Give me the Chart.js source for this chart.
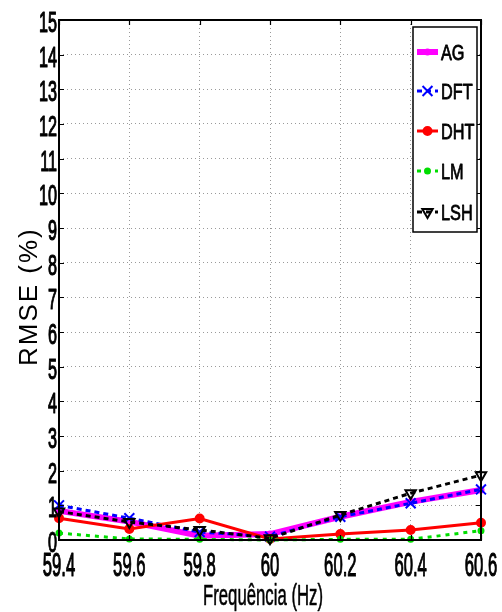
<!DOCTYPE html>
<html>
<head>
<meta charset="utf-8">
<script src="https://cdn.jsdelivr.net/npm/chart.js@4/dist/chart.umd.min.js"></script>
<style>
  html, body { margin: 0; padding: 0; background: #fff; }
  #wrap { width: 502px; height: 612px; }
</style>
</head>
<body>
<div id="wrap"><canvas id="c" width="502" height="612"></canvas></div>
<script>
// Frequency points (Hz) and RMSE (%) per estimation method
const categories = ['59.4', '59.6', '59.8', '60', '60.2', '60.4', '60.6'];
const yTicks = [0, 1, 2, 3, 4, 5, 6, 7, 8, 9, 10, 11, 12, 13, 14, 15];
const seriesNames = ['AG', 'DFT', 'DHT', 'LM', 'LSH'];
const ag  = [0.84, 0.53, 0.12, 0.17, 0.67, 1.10, 1.44];
const dft = [1.00, 0.63, 0.23, 0.10, 0.67, 1.06, 1.46];
const dht = [0.63, 0.32, 0.62, 0.03, 0.17, 0.29, 0.50];
const lm  = [0.20, 0.03, 0.02, 0.00, 0.02, 0.02, 0.27];
const lsh = [0.82, 0.52, 0.29, 0.05, 0.72, 1.35, 1.87];

const FONT = '"Liberation Sans", Arial, sans-serif';

// Draws a text string squeezed horizontally, optionally thickened by a stroke
function squeezed(ctx, text, x, y, sx, align, weight) {
  ctx.save();
  ctx.translate(x, y);
  ctx.scale(sx, 1);
  ctx.textAlign = align;
  ctx.fillText(text, 0, 0);
  if (weight) {
    ctx.strokeStyle = ctx.fillStyle;
    ctx.lineWidth = weight;
    ctx.lineJoin = 'round';
    ctx.strokeText(text, 0, 0);
  }
  ctx.restore();
}

const frame = {
  id: 'frame',
  afterDatasetsDraw(chart) {
    const ctx = chart.ctx;
    const a = chart.chartArea;
    const xs = chart.scales.x, ys = chart.scales.y;

    // inward tick marks on all four sides
    ctx.save();
    ctx.strokeStyle = '#000';
    ctx.lineWidth = 1.2;
    ctx.beginPath();
    yTicks.forEach(v => {
      const p = Math.round(ys.getPixelForValue(v)) + 0.5;
      ctx.moveTo(a.left, p); ctx.lineTo(a.left + 5, p);
      ctx.moveTo(a.right, p); ctx.lineTo(a.right - 5, p);
    });
    categories.forEach((c, i) => {
      const p = Math.round(xs.getPixelForTick(i)) + 0.5;
      ctx.moveTo(p, a.bottom); ctx.lineTo(p, a.bottom - 5);
      ctx.moveTo(p, a.top); ctx.lineTo(p, a.top + 5);
    });
    ctx.stroke();

    // axes box
    ctx.lineWidth = 2;
    ctx.strokeRect(a.left, a.top, a.right - a.left, a.bottom - a.top);
    ctx.restore();
  },
  afterDraw(chart) {
    const ctx = chart.ctx;
    const a = chart.chartArea;
    const xs = chart.scales.x, ys = chart.scales.y;
    ctx.save();
    ctx.fillStyle = '#000';
    ctx.textBaseline = 'alphabetic';

    // tick labels
    ctx.font = '30px ' + FONT;
    yTicks.forEach(v => {
      squeezed(ctx, String(v), a.left - 2, ys.getPixelForValue(v) + 12, 0.54, 'right', 1.2);
    });
    ctx.font = '34px ' + FONT;
    categories.forEach((c, i) => {
      squeezed(ctx, c, xs.getPixelForTick(i), 576, 0.49, 'center', 1.2);
    });

    // x axis title
    ctx.font = '30px ' + FONT;
    const xt = 'Frequência (Hz)';
    const w = ctx.measureText(xt).width;
    squeezed(ctx, xt, 263, 605, 120 / w, 'center', 0.6);

    // y axis title
    ctx.save();
    ctx.translate(37, 366);
    ctx.rotate(-Math.PI / 2);
    ctx.font = '26px ' + FONT;
    ctx.letterSpacing = '2px';
    ctx.textAlign = 'left';
    ctx.fillText('RMSE (%)', 0, 0);
    ctx.restore();

    // legend
    const lx = 413, ly = 27, lw = 64, lh = 205;
    ctx.fillStyle = '#fff';
    ctx.fillRect(lx, ly, lw, lh);
    ctx.strokeStyle = '#000';
    ctx.lineWidth = 1.5;
    ctx.strokeRect(lx, ly, lw, lh);
    const rows = [52, 91, 131, 171, 212];
    chart.data.datasets.forEach((ds, i) => {
      const y = rows[i];
      ctx.save();
      ctx.strokeStyle = ds.borderColor;
      ctx.lineWidth = ds.borderWidth;
      ctx.setLineDash(ds.borderDash || []);
      ctx.beginPath();
      ctx.moveTo(417, y); ctx.lineTo(438, y);
      ctx.stroke();
      ctx.setLineDash([]);
      ctx.fillStyle = ds.pointBackgroundColor;
      ctx.strokeStyle = ds.pointBorderColor;
      ctx.lineWidth = ds.pointBorderWidth;
      Chart.helpers.drawPoint(ctx, {
        pointStyle: ds.pointStyle,
        radius: ds.pointRadius,
        rotation: ds.pointRotation || 0,
        borderWidth: ds.pointBorderWidth
      }, 427.5, y);
      ctx.restore();
      ctx.fillStyle = '#000';
      ctx.font = '22px ' + FONT;
      squeezed(ctx, ds.label, 441, y + 8, 0.74, 'left', 0.8);
    });
    ctx.restore();
  }
};

function series(label, data, color, width, dash, style, radius, fill, order, rot) {
  return {
    label, data,
    borderColor: color,
    borderWidth: width,
    borderDash: dash,
    pointStyle: style,
    pointRadius: radius,
    pointHoverRadius: radius,
    pointBackgroundColor: fill,
    pointBorderColor: color,
    pointBorderWidth: 2,
    pointRotation: rot || 0,
    tension: 0,
    fill: false,
    clip: false,
    order
  };
}

new Chart(document.getElementById('c'), {
  type: 'line',
  data: {
    labels: categories,
    datasets: [
      series(seriesNames[0], ag,  '#ff00ff', 6, [],     'circle',   2.5, '#ff00ff', 5),
      series(seriesNames[1], dft, '#0000ff', 3, [5, 4], 'crossRot', 7,   '#0000ff', 4),
      series(seriesNames[2], dht, '#ff0000', 3, [],     'circle',   4,   '#ff0000', 3),
      series(seriesNames[3], lm,  '#00dd00', 3, [4, 5], 'circle',   2.5, '#00dd00', 2),
      series(seriesNames[4], lsh, '#000000', 3, [5, 4], 'triangle', 6,   'rgba(0,0,0,0)', 1, 180)
    ]
  },
  options: {
    responsive: false,
    animation: false,
    events: [],
    layout: { padding: { top: 20, right: 21, left: 0, bottom: 0 } },
    plugins: { legend: { display: false }, tooltip: { enabled: false }, title: { display: false } },
    scales: {
      x: {
        type: 'category',
        offset: false,
        grid: { color: '#9a9a9a', lineWidth: 1, drawTicks: false },
        border: { display: false, dash: [1, 3] },
        ticks: { display: false },
        afterFit(s) { s.height = 72; }
      },
      y: {
        min: 0, max: 15,
        ticks: { display: false, stepSize: 1 },
        grid: { color: '#9a9a9a', lineWidth: 1, drawTicks: false },
        border: { display: false, dash: [1, 3] },
        afterFit(s) { s.width = 59; }
      }
    }
  },
  plugins: [frame]
});
</script>
</body>
</html>
